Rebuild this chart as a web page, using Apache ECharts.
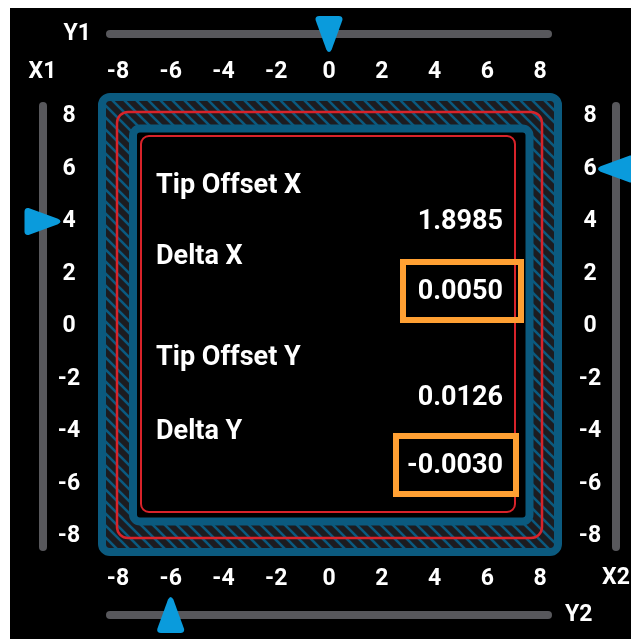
<!DOCTYPE html>
<html>
<head>
<meta charset="utf-8">
<script src="https://cdn.jsdelivr.net/npm/echarts@6/dist/echarts.min.js"></script>
<style>
    html, body { margin: 0; padding: 0; background: #ffffff; }
    #bg { position: absolute; left: 10px; top: 8px; width: 621px; height: 631px; background: #000000; }
    #main { position: absolute; left: 0; top: 0; width: 631px; height: 639px; }
</style>
</head>
<body>
<div id="bg"></div>
<div id="main"></div>
<script>
/* slider readings */
var sliderNames = ["Y1", "Y2", "X1", "X2"];
var sliderValues = [0, -6, 4, 6];

/* scale ticks */
var tickMin = -8;
var tickMax = 8;
var tickStep = 2;

/* readout panel */
var fieldNames = ["Tip Offset X", "Delta X", "Tip Offset Y", "Delta Y"];
var fieldValues = ["1.8985", "0.0050", "0.0126", "-0.0030"];
var fieldFlagged = [false, true, false, true];

var FONT = "Roboto";
var WHITE = "#ffffff";
var TRACK = "#58585c";
var MARKER = "#0a9bdc";
var FRAME = "#0b5a7f";
var HATCH_BG = "#1c1c20";
var RED = "#d8232a";
var ORANGE = "#ffa033";

/* slider track reaches a bit past the last tick */
var trackX = 8.3;
var trackY = 8.4;

var panel = {
    labelX: 156,
    valueX: 503,
    labelY: [186, 257, 358, 432],
    valueY: [222, 292, 398, 466],
    boxes: [[403, 262, 118, 58], [396, 436, 120, 58]],
};

var pointer = "path://M4,0 L22,0 Q26,0 25.5,4 L15.5,33 Q13,38 10.5,33 L0.5,4 Q0,0 4,0 Z";

function hatch() {
    var s = 12;
    var c = document.createElement("canvas");
    c.width = s;
    c.height = s;
    var g = c.getContext("2d");
    g.fillStyle = HATCH_BG;
    g.fillRect(0, 0, s, s);
    g.strokeStyle = FRAME;
    g.lineWidth = 2.6;
    g.beginPath();
    g.moveTo(-2, -2); g.lineTo(s + 2, s + 2);
    g.moveTo(-2, s - 2); g.lineTo(2, s + 2);
    g.moveTo(s - 2, -2); g.lineTo(s + 2, 2);
    g.stroke();
    return c;
}

var labelFont = { color: WHITE, fontFamily: FONT, fontWeight: "bold", fontSize: 23 };

function scaleAxis(gridIndex, position, labelOpts) {
    return {
        type: "value", gridIndex: gridIndex, position: position,
        min: tickMin, max: tickMax, interval: tickStep,
        axisLine: { show: false, onZero: false },
        axisTick: { show: false },
        splitLine: { show: false },
        axisLabel: Object.assign({}, labelFont, labelOpts),
    };
}

function trackAxis(gridIndex, position, offset, ext, name, nameLocation, nameGap, nameAlign) {
    return {
        type: "value", gridIndex: gridIndex, position: position, offset: offset,
        min: -ext, max: ext,
        axisLine: { show: true, onZero: false, lineStyle: { color: TRACK, width: 8, cap: "round" } },
        axisTick: { show: false },
        axisLabel: { show: false },
        splitLine: { show: false },
        name: name, nameLocation: nameLocation, nameGap: nameGap,
        nameTextStyle: Object.assign({}, labelFont, { align: nameAlign, verticalAlign: "middle" }),
    };
}

function holder(gridIndex, name) {
    return { type: "category", gridIndex: gridIndex, data: [name], show: false };
}

function marker(xi, yi, point, rotate) {
    return {
        type: "scatter", xAxisIndex: xi, yAxisIndex: yi, data: [point],
        symbol: pointer, symbolSize: [27, 36], symbolRotate: rotate,
        itemStyle: { color: MARKER, opacity: 1 },
        clip: false, silent: true, z: 5,
    };
}

var texts = [];
fieldNames.forEach(function (name, i) {
    texts.push({
        type: "text", x: panel.labelX, y: panel.labelY[i],
        style: { text: name, fill: WHITE, font: "bold 27px " + FONT, align: "left", verticalAlign: "middle" },
    });
    texts.push({
        type: "text", x: panel.valueX, y: panel.valueY[i],
        style: { text: fieldValues[i], fill: WHITE, font: "bold 27px " + FONT, align: "right", verticalAlign: "middle" },
    });
});
var k = 0;
fieldFlagged.forEach(function (f) {
    if (!f) return;
    var b = panel.boxes[k++];
    texts.push({
        type: "rect", shape: { x: b[0], y: b[1], width: b[2], height: b[3] },
        style: { fill: null, stroke: ORANGE, lineWidth: 6 },
    });
});

var option = {
    backgroundColor: "transparent",
    animation: false,
    grid: [
        { left: 118, right: 91, top: 116.5, bottom: 102.5 },
        { left: 110, right: 83, top: 26, height: 16 },
        { left: 110, right: 83, top: 607, height: 16 },
        { left: 34, width: 17, top: 106, bottom: 92 },
        { left: 608, width: 16, top: 106, bottom: 92 },
    ],
    xAxis: [
        scaleAxis(0, "top", { margin: 44, verticalAlign: "middle" }),
        scaleAxis(0, "bottom", { margin: 43, verticalAlign: "middle" }),
        trackAxis(1, "bottom", -8, trackX, sliderNames[0], "start", 19, "right"),
        trackAxis(2, "bottom", -8, trackX, sliderNames[1], "end", 17, "left"),
        holder(3, sliderNames[2]),
        holder(4, sliderNames[3]),
    ],
    yAxis: [
        scaleAxis(0, "left", { margin: 49, align: "center" }),
        scaleAxis(0, "right", { margin: 50, align: "center" }),
        holder(1, sliderNames[0]),
        holder(2, sliderNames[1]),
        trackAxis(3, "left", -8.5, trackY, sliderNames[2], "end", 34, "center"),
        trackAxis(4, "right", -8, trackY, sliderNames[3], "start", 31, "center"),
    ],
    graphic: {
        elements: [
            { type: "rect", z: -10, shape: { x: 102, y: 97, width: 456, height: 455, r: 8 },
              style: { fill: { image: hatch(), repeat: "repeat" }, stroke: FRAME, lineWidth: 8 } },
            { type: "rect", z: -9, shape: { x: 117, y: 112, width: 425, height: 426, r: 11 },
              style: { fill: null, stroke: RED, lineWidth: 2.5 } },
            { type: "rect", z: -8, shape: { x: 133, y: 128.5, width: 396.5, height: 393, r: 7 },
              style: { fill: "#000000", stroke: FRAME, lineWidth: 8 } },
            { type: "rect", z: -7, shape: { x: 141, y: 136, width: 374, height: 376, r: 8 },
              style: { fill: null, stroke: RED, lineWidth: 2 } },
        ].concat(texts),
    },
    series: [
        marker(2, 2, [sliderValues[0], 0], 0),
        marker(3, 3, [sliderValues[1], 0], 180),
        marker(4, 4, [0, sliderValues[2]], 90),
        marker(5, 5, [0, sliderValues[3]], -90),
    ],
};

var myChart = echarts.init(document.getElementById("main"), null, { renderer: "canvas" });
myChart.setOption(option);
</script>
</body>
</html>
